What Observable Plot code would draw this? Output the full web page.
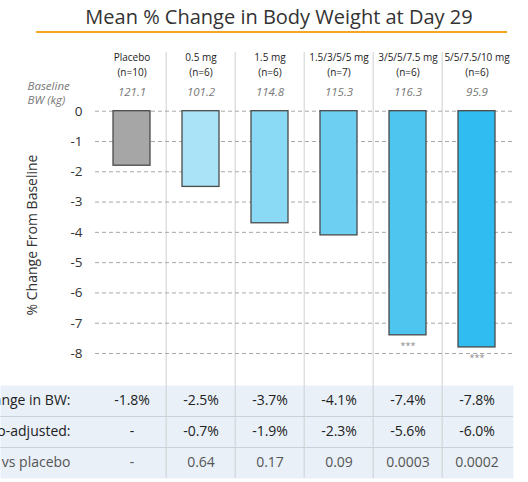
<!DOCTYPE html>
<html>
<head>
<meta charset="utf-8">
<script src="https://cdn.jsdelivr.net/npm/d3@7"></script>
<script src="https://cdn.jsdelivr.net/npm/@observablehq/plot@0.6"></script>
<style>
  html, body { margin: 0; padding: 0; background: #fff; overflow: hidden; }
  body { width: 528px; height: 482px; position: relative; font-family: "Open Sans", sans-serif; }
  #title { position: absolute; left: 36px; top: 0; width: 471px; height: 33px; border-bottom: 2px solid #f5a623;
           font-size: 20px; color: #333; text-align: center; line-height: 34px; padding-left: 15px; box-sizing: border-box; white-space: nowrap; }
  #chart { position: absolute; left: 0; top: 40px; }
  #table { position: absolute; left: 0; top: 385px; }
  svg { overflow: visible; }
</style>
</head>
<body>
<div id="title">Mean % Change in Body Weight at Day 29</div>
<div id="chart"></div>
<div id="table"></div>
<script>
// ---- data ----
const groups = ["Placebo", "0.5 mg", "1.5 mg", "1.5/3/5/5 mg", "3/5/5/7.5 mg", "5/5/7.5/10 mg"];
const nLabels = ["(n=10)", "(n=6)", "(n=6)", "(n=7)", "(n=6)", "(n=6)"];
const baselineBW = ["121.1", "101.2", "114.8", "115.3", "116.3", "95.9"];
const meanChange = [-1.8, -2.5, -3.7, -4.1, -7.4, -7.8];
const placeboAdjusted = ["-", "-0.7%", "-1.9%", "-2.3%", "-5.6%", "-6.0%"];
const pValues = ["-", "0.64", "0.17", "0.09", "0.0003", "0.0002"];
const significance = ["", "", "", "", "***", "***"];
const barColors = ["#a6a6a6", "#aae3f8", "#8bdaf5", "#6dd0f2", "#4dc5ef", "#30bcf0"];
const yTicks = [0, -1, -2, -3, -4, -5, -6, -7, -8];
const rowLabels = ["Mean change in BW:", "Placebo-adjusted:", "p-value vs placebo"];

// ---- derived tables ----
const bars = groups.map((g, i) => ({group: g, value: meanChange[i], color: barColors[i], header: g + "\n" + nLabels[i], bw: baselineBW[i], sig: significance[i]}));
const meanText = meanChange.map(v => v.toFixed(1) + "%");
const cells = [];
groups.forEach((g, i) => {
  cells.push({group: g, row: rowLabels[0], text: meanText[i]});
  cells.push({group: g, row: rowLabels[1], text: placeboAdjusted[i]});
  cells.push({group: g, row: rowLabels[2], text: pValues[i]});
});

const W = 528, mL = 95, mR = 15;
const step = (W - mL - mR) / groups.length;
const font = "Open Sans, sans-serif";

const chart = Plot.plot({
  width: W, height: 345,
  marginTop: 12, marginBottom: 0, marginLeft: mL, marginRight: mR,
  style: {fontFamily: font, background: "transparent", overflow: "visible"},
  x: {type: "band", domain: groups, padding: 0, axis: null},
  y: {domain: [0, -8], range: [70.7, 313], axis: null},
  marks: [
    Plot.ruleX(groups.slice(1), {x: d => d, dx: -step / 2, stroke: "#cfcfcf", strokeWidth: 1}),
    Plot.ruleY(yTicks, {y: d => d, stroke: "#a8a8a8", strokeWidth: 1, strokeDasharray: "4,3"}),
    Plot.barY(bars, {x: "group", y1: 0, y2: "value", fill: "color", stroke: "#4a4a4a", strokeWidth: 1.3, insetLeft: 16, insetRight: 16}),
    Plot.axisY({ticks: yTicks, tickSize: 0, tickPadding: 13, fontSize: 13.5, tickFormat: d => String(d).replace("−", "-"), color: "#333", label: null}),
    Plot.text(bars, {x: "group", text: "header", frameAnchor: "top", lineAnchor: "top", dy: -2, fontSize: 10, lineHeight: 1.5, fill: "#222"}),
    Plot.text(bars, {x: "group", text: "bw", frameAnchor: "top", lineAnchor: "middle", dy: 40, fontSize: 11.5, fontStyle: "italic", fill: "#777"}),
    Plot.text(["Baseline\nBW (kg)"], {text: d => d, frameAnchor: "top-left", textAnchor: "start", lineAnchor: "middle", dx: -68, dy: 40, fontSize: 11.5, fontStyle: "italic", fill: "#777", lineHeight: 1.25}),
    Plot.text(bars, {x: "group", y: "value", text: "sig", lineAnchor: "middle", dy: 11, fontSize: 9, fill: "#888"}),
    Plot.text(["% Change From Baseline"], {text: d => d, frameAnchor: "left", textAnchor: "middle", rotate: -90, dx: -63, dy: 16, fontSize: 14, fill: "#333"})
  ]
});
document.getElementById("chart").append(chart);

const table = Plot.plot({
  width: W, height: 97,
  marginTop: 0, marginBottom: 4, marginLeft: 0, marginRight: mR,
  style: {fontFamily: font, background: "transparent", overflow: "visible"},
  x: {type: "band", domain: groups, padding: 0, range: [mL, W - mR], axis: null},
  y: {type: "band", domain: rowLabels, padding: 0, axis: null},
  marks: [
    Plot.frame({fill: "#e9f0f8", stroke: null}),
    Plot.ruleY(rowLabels.slice(1), {y: d => d, dy: -31 / 2, stroke: "#c9d2dc", strokeWidth: 1}),
    Plot.ruleX(groups.slice(1), {x: d => d, dx: -step / 2, stroke: "#cfcfcf", strokeWidth: 1}),
    Plot.text(rowLabels, {y: d => d, text: d => d, frameAnchor: "left", textAnchor: "end", dx: 70, fontSize: 14, fill: d => d === rowLabels[2] ? "#555" : "#222"}),
    Plot.text(cells, {x: "group", y: "row", text: "text", fontSize: 14, fill: d => d.row === rowLabels[2] ? "#555" : "#222"})
  ]
});
document.getElementById("table").append(table);
</script>
</body>
</html>
